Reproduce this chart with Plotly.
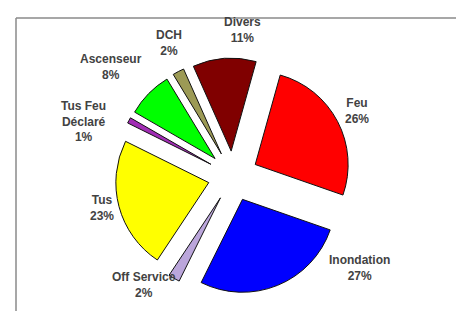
import math
import plotly.graph_objects as go

categories = ["Divers", "Feu", "Inondation", "Off Service", "Tus", "Tus Feu Déclaré", "Ascenseur", "DCH"]
display_labels = ["Divers", "Feu", "Inondation", "Off Service", "Tus", "Tus Feu<br>Déclaré", "Ascenseur", "DCH"]
values = [11, 26, 27, 2, 23, 1, 8, 2]
colors = ["#800000", "#FF0000", "#0000FF", "#BBA6DB", "#FFFF00", "#A22DB5", "#00FF00", "#9C9A55"]

W, H = 464, 311
ROTATION = -24
PULL = 0.27
DOM_X = [0.2306, 0.7392]
DOM_Y = [0.0800, 0.8388]

# label placement (style): angular nudge in degrees, radial factor relative to pie radius, pixel offset
label_angle_offset = [11, 4, -31, 5, -3, -10, -3, 3]
label_radius = [1.50, 1.54, 1.79, 1.53, 1.40, 1.61, 1.65, 1.48]
LABEL_DX, LABEL_DY = -7, -8

fig = go.Figure(go.Pie(
    labels=categories,
    values=values,
    textinfo="none",
    automargin=False,
    sort=False,
    direction="clockwise",
    rotation=ROTATION,
    pull=[PULL] * len(values),
    marker=dict(colors=colors, line=dict(color="#111111", width=1)),
    showlegend=False,
    domain=dict(x=DOM_X, y=DOM_Y),
    hoverinfo="skip",
))

# labels: positioned from the data (mid-angle of each slice), like the library's outside text
box_w = W * (DOM_X[1] - DOM_X[0])
box_h = H * (DOM_Y[1] - DOM_Y[0])
r = min(box_w, box_h) / (2 + 2 * PULL)
cx = W * (DOM_X[0] + DOM_X[1]) / 2
cy = H * (1 - (DOM_Y[0] + DOM_Y[1]) / 2)
total = sum(values)
annotations = []
acc = 0.0
for i, v in enumerate(values):
    mid = ROTATION + 360.0 * (acc + v / 2) / total + label_angle_offset[i]
    acc += v
    a = math.radians(mid)
    px = cx + label_radius[i] * r * math.sin(a) + LABEL_DX
    py = cy - label_radius[i] * r * math.cos(a) + LABEL_DY
    annotations.append(dict(
        x=px / W, y=1 - py / H, xref="paper", yref="paper",
        text=f"{display_labels[i]}<br>{round(100 * v / total)}%",
        showarrow=False, xanchor="center", yanchor="middle", align="center",
        font=dict(family="Liberation Sans, Arial, sans-serif", size=12, color="#424242", weight="bold"),
    ))

fig.update_layout(
    width=W, height=H,
    margin=dict(l=0, r=0, t=0, b=0, autoexpand=False),
    paper_bgcolor="white",
    plot_bgcolor="white",
    annotations=annotations,
    shapes=[
        dict(type="line", xref="paper", yref="paper", x0=8/W, x1=456/W, y0=1-10/H, y1=1-10/H,
             line=dict(color="#8a8a8a", width=1.5)),
        dict(type="line", xref="paper", yref="paper", x0=8/W, x1=8/W, y0=1-10/H, y1=0,
             line=dict(color="#8a8a8a", width=1.5)),
        dict(type="line", xref="paper", yref="paper", x0=455/W, x1=455/W, y0=1, y1=1-5/H,
             line=dict(color="#333333", width=1.5)),
    ],
)

fig.write_html("out.html")
